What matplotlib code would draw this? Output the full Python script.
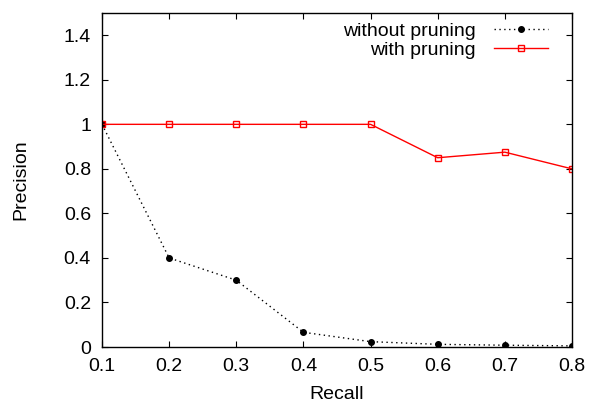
import matplotlib
matplotlib.use("Agg")
import matplotlib.pyplot as plt

recall = [0.1, 0.2, 0.3, 0.4, 0.5, 0.6, 0.7, 0.8]
without_pruning = [1.0, 0.4, 0.3, 0.066, 0.024, 0.012, 0.008, 0.005]
with_pruning = [1.0, 1.0, 1.0, 1.0, 1.0, 0.85, 0.875, 0.8]
xticks = [0.1, 0.2, 0.3, 0.4, 0.5, 0.6, 0.7, 0.8]
yticks = [0, 0.2, 0.4, 0.6, 0.8, 1, 1.2, 1.4]
ytick_labels = ["0", "0.2", "0.4", "0.6", "0.8", "1", "1.2", "1.4"]

plt.rcParams['font.family'] = ['Liberation Sans', 'DejaVu Sans']
fig = plt.figure(figsize=(5.89, 4.05), dpi=100)
ax = fig.add_axes([102/589, 1-347/405, (572-102)/589, (347-13)/405])

ax.plot(recall, without_pruning, color='black', linestyle=(0, (1, 2.5)), linewidth=1,
        marker='o', markersize=4, label='without pruning')
ax.plot(recall, with_pruning, color='red', linestyle='-', linewidth=1,
        marker='s', markersize=5, markerfacecolor='none', markeredgewidth=1, label='with pruning')

ax.set_xlim(0.1, 0.8)
ax.set_ylim(0, 1.5)
ax.set_xticks(xticks)
ax.set_xticklabels([str(x) for x in xticks])
ax.set_yticks(yticks)
ax.set_yticklabels(ytick_labels)
ax.tick_params(direction='in', top=True, right=True, labelsize=14, length=4.5, pad=8)
ax.set_xlabel('Recall', fontsize=14, labelpad=8)
ax.set_ylabel('Precision', fontsize=14, labelpad=25)
for s in ax.spines.values():
    s.set_linewidth(1)

leg = ax.legend(loc='upper right', frameon=False, markerfirst=False, fontsize=14,
                handlelength=2.8, borderaxespad=0, borderpad=0, labelspacing=0.1,
                handletextpad=0.9, bbox_to_anchor=(1 - 24/470, 1 - 9/334))
for t in leg.get_texts():
    t.set_ha('right')

fig.savefig('out.png', dpi=100)
